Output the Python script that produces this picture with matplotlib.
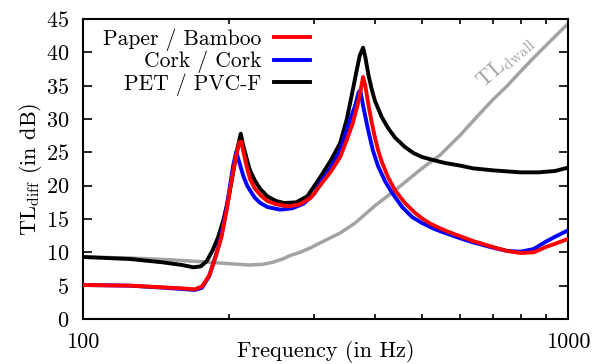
import numpy as np
import matplotlib
matplotlib.use("Agg")
import matplotlib.pyplot as plt
from matplotlib.ticker import FixedLocator, NullFormatter

plt.rcParams['font.family'] = ['cmr10', 'DejaVu Serif']
plt.rcParams['mathtext.fontset'] = 'cm'
plt.rcParams['axes.unicode_minus'] = False
plt.rcParams['axes.formatter.use_mathtext'] = True

# Paper / Bamboo
f_red = [100, 125, 146, 160, 170, 176, 182, 188, 193, 198, 201, 205, 208, 210, 212, 215,
         218, 221, 226, 232, 240, 250, 265, 280, 295, 308, 325, 339, 350, 360, 368, 374,
         378, 382, 388, 394, 400, 406, 413, 426, 440, 461, 484, 500, 520, 545, 570, 600, 637,
         700, 750, 800, 850, 900, 950, 1000]
tl_red = [5.1, 5.0, 4.75, 4.6, 4.45, 4.9, 6.5, 9.5, 12.3, 16.5, 19.5, 23.0, 25.2, 26.5, 26.6, 24.5,
          22.6, 21.0, 19.6, 18.6, 17.7, 17.2, 16.9, 17.2, 18.2, 20.0, 22.2, 24.3, 26.9, 29.4, 32.0, 34.5,
          36.3, 35.0, 32.0, 29.4, 27.2, 25.3, 23.6, 21.2, 19.3, 17.4, 15.9, 15.1, 14.3, 13.6, 13.0, 12.4, 11.7,
          10.8, 10.2, 9.9, 10.0, 10.8, 11.4, 12.0]

# Cork / Cork
f_blue = [100, 125, 146, 160, 170, 176, 182, 188, 193, 198, 201, 204, 207, 210, 214, 218,
          221, 226, 232, 240, 255, 270, 285, 300, 308, 325, 339, 355, 364, 370, 373, 378,
          383, 387, 396, 406, 420, 434, 455, 477, 500, 530, 558, 600, 637, 700, 750, 800,
          850, 900, 950, 1000]
tl_blue = [5.1, 5.0, 4.7, 4.5, 4.35, 4.7, 6.4, 9.6, 12.6, 17.0, 20.0, 23.0, 25.1, 23.5, 21.5, 20.0,
           19.3, 18.2, 17.4, 16.8, 16.4, 16.6, 17.3, 18.8, 20.4, 22.8, 25.3, 29.8, 32.0, 34.0, 34.3, 32.0,
           30.0, 28.4, 25.3, 22.9, 20.6, 18.9, 16.8, 15.3, 14.4, 13.5, 12.9, 12.1, 11.5, 10.7, 10.2, 10.1,
           10.5, 11.6, 12.5, 13.3]

# PET / PVC-F
f_black = [100, 125, 146, 160, 169, 175, 180, 185, 190, 195, 200, 204, 208, 211.5, 214, 218,
           221, 226, 232, 240, 250, 260, 275, 290, 308, 325, 339, 350, 358, 366, 372, 378,
           382, 388, 394, 400, 413, 426, 440, 461, 480, 500, 530, 558, 600, 637, 700, 796,
           870, 940, 1000]
tl_black = [9.3, 9.0, 8.5, 8.1, 7.75, 7.9, 8.7, 10.3, 12.3, 15.0, 18.5, 22.0, 25.5, 27.8, 26.0, 23.8,
            22.3, 20.8, 19.5, 18.4, 17.7, 17.4, 17.5, 18.4, 21.2, 23.9, 26.4, 30.0, 33.5, 37.0, 39.5, 40.7,
            39.3, 36.5, 34.4, 32.7, 30.3, 28.6, 27.2, 25.8, 24.9, 24.3, 23.8, 23.4, 23.0, 22.6, 22.3, 22.0,
            22.0, 22.2, 22.7]

# TL dwall
f_wall = [100, 125, 150, 175, 200, 221, 235, 246, 258, 267, 280, 295, 308, 339, 364, 400,
          440, 500, 545, 600, 650, 700, 750, 800, 850, 900, 950, 1000]
tl_wall = [9.3, 9.15, 8.9, 8.6, 8.3, 8.1, 8.2, 8.5, 9.0, 9.5, 10.0, 10.7, 11.4, 12.9, 14.4, 17.0,
           19.3, 22.6, 24.6, 27.6, 30.4, 32.9, 35.0, 37.2, 39.2, 41.0, 42.7, 44.3]

fig = plt.figure(figsize=(6, 3.64), dpi=100)
ax = fig.add_axes([83/600, 1-319/364, 485/600, 300/364])

ax.plot(f_wall, tl_wall, color='#a3a3a3', lw=2.5, zorder=2)
ax.plot(f_black, tl_black, color='black', lw=2.8, zorder=3, label='PET / PVC-F')
ax.plot(f_blue, tl_blue, color='blue', lw=2.8, zorder=4, label='Cork / Cork')
ax.plot(f_red, tl_red, color='red', lw=2.8, zorder=5, label='Paper / Bamboo')

ax.set_xscale('log')
ax.set_xlim(100, 1000)
ax.set_ylim(0, 45)
ax.xaxis.set_major_locator(FixedLocator([100, 1000]))
ax.set_xticklabels(['100', '1000'])
ax.xaxis.set_minor_locator(FixedLocator([200, 300, 400, 500, 600, 700, 800, 900]))
ax.xaxis.set_minor_formatter(NullFormatter())
ax.set_yticks(np.arange(0, 46, 5))

ax.tick_params(axis='both', which='major', direction='in', length=6.5, width=1.2,
               labelsize=16, top=True, right=True)
ax.tick_params(axis='x', which='major', pad=10)
ax.tick_params(axis='y', which='major', pad=10)
ax.tick_params(axis='x', which='minor', direction='in', length=3.8, width=1.2, top=True)
for s in ax.spines.values():
    s.set_linewidth(1.5)

ax.set_xlabel('Frequency (in Hz)', fontsize=16, labelpad=-9)
ax.set_ylabel(r'TL$_{\mathrm{diff}}$ (in dB)', fontsize=16, labelpad=1)

ax.text(742, 38.6, r'TL$_{\mathrm{dwall}}$', color='#a3a3a3', fontsize=16, rotation=41,
        ha='center', va='center')

h, l = ax.get_legend_handles_labels()
ax.legend(h[::-1], l[::-1], loc='upper left', bbox_to_anchor=(0.01, 1.02), frameon=False,
          markerfirst=False, fontsize=15.5, handlelength=1.65, handletextpad=0.6,
          labelspacing=0.0, borderpad=0.2)

fig.savefig('out.png', dpi=100)
